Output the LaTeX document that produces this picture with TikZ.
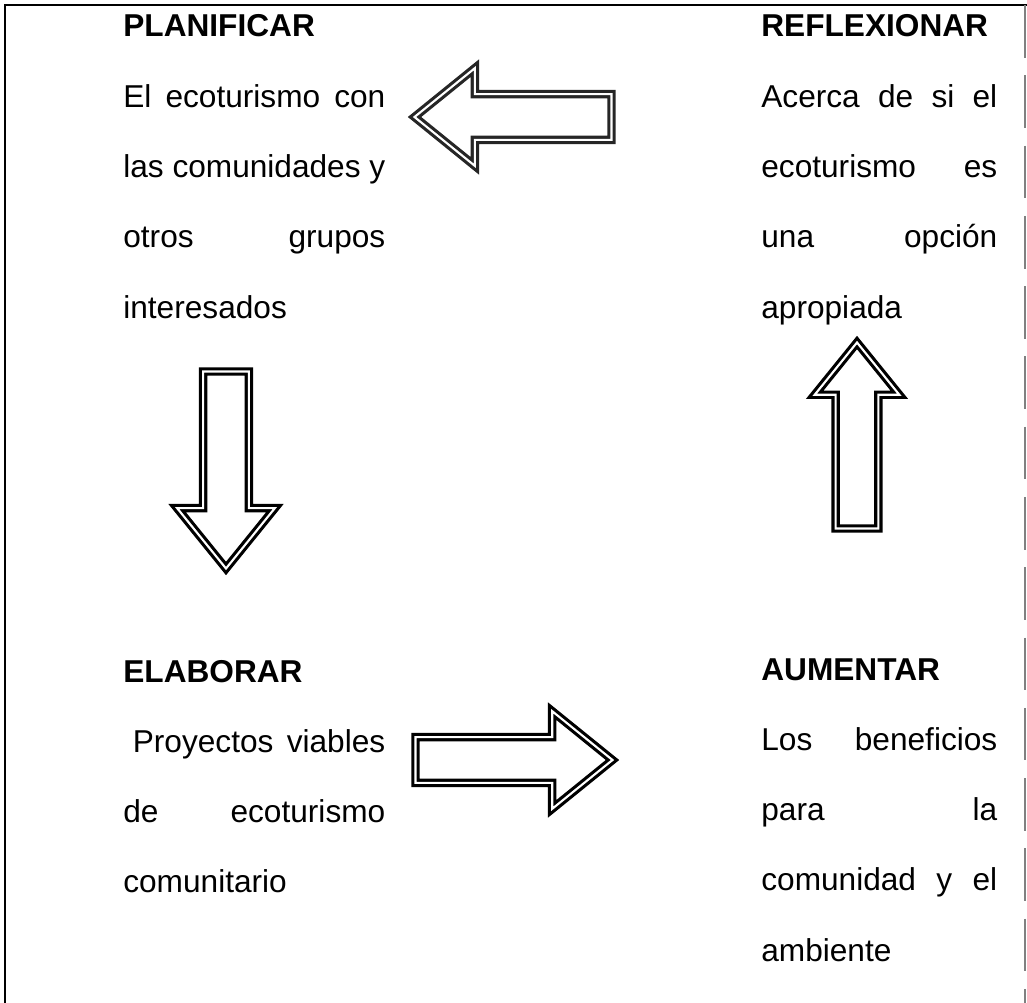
\documentclass[tikz,border=0pt]{standalone}
\usepackage{fontspec}
\setmainfont{Liberation Sans}
\usetikzlibrary{shapes.arrows, positioning}

\newlength{\colL}\setlength{\colL}{5.24cm}
\newlength{\colR}\setlength{\colR}{4.72cm}
% Blocksatz-Zeilen
\newcommand{\jl}[1]{\makebox[\colL][s]{#1}}
\newcommand{\jr}[1]{\makebox[\colR][s]{#1}}

\begin{document}
\begin{tikzpicture}[x=0.02cm, y=-0.02cm,
      txt/.style={anchor=base west, inner sep=0pt, align=left,
                  font=\fontsize{18}{40}\selectfont},
      colL/.style={txt, text width=\colL},
      colR/.style={txt, text width=\colR},
      blkarrow/.style={single arrow, draw, line width=1.8pt, double,
                       double distance=1.2pt, inner xsep=0pt, inner ysep=0.425cm,
                       minimum height=3.94cm, minimum width=1.89cm,
                       single arrow head extend=0.52cm,
                       single arrow tip angle=78, anchor=tip},
      frame/.style={line width=1.2pt}
    ]
    \useasboundingbox (0,0) rectangle (1027,1003);

    % Rahmen
    \draw[frame] (5,1003) -- (5,5) -- (1027,5);
    \draw[gray, line width=0.8pt, dash pattern=on 30pt off 10pt] (1025,5) -- (1025,1003);

    % Bloecke
    \node[colL] (plan) at (123,37) {\textbf{PLANIFICAR}\\
      \jl{El\hfill ecoturismo\hfill con}\\
      \jl{las\hfill comunidades\hfill y}\\
      \jl{otros\hfill grupos}\\
      interesados};
    \node[colR] (refl) at (761,37) {\textbf{REFLEXIONAR}\\
      \jr{Acerca\hfill de\hfill si\hfill el}\\
      \jr{ecoturismo\hfill es}\\
      \jr{una\hfill opción}\\
      apropiada};
    \node[colL] (elab) at (123,682) {\textbf{ELABORAR}\\
      \jl{\kern0.3em Proyectos\hfill viables}\\
      \jl{de\hfill ecoturismo}\\
      comunitario};
    \node[colR] (aum) at (761,680) {\textbf{AUMENTAR}\\
      \jr{Los\hfill beneficios}\\
      \jr{para\hfill la}\\
      \jr{comunidad\hfill y\hfill el}\\
      ambiente};

    % Pfeile
    \node[blkarrow, rotate=180, draw=black!85] (arrPlan) at (412,117) {};
    \node[blkarrow, rotate=-90] (arrElab) at (226,571) {};
    \node[blkarrow] (arrAum) at (615,760) {};
    \node[blkarrow, rotate=90, minimum height=3.72cm, minimum width=1.63cm,
          inner ysep=0.395cm, single arrow head extend=0.42cm] (arrRefl) at (857,340) {};
  \end{tikzpicture}
\end{document}
